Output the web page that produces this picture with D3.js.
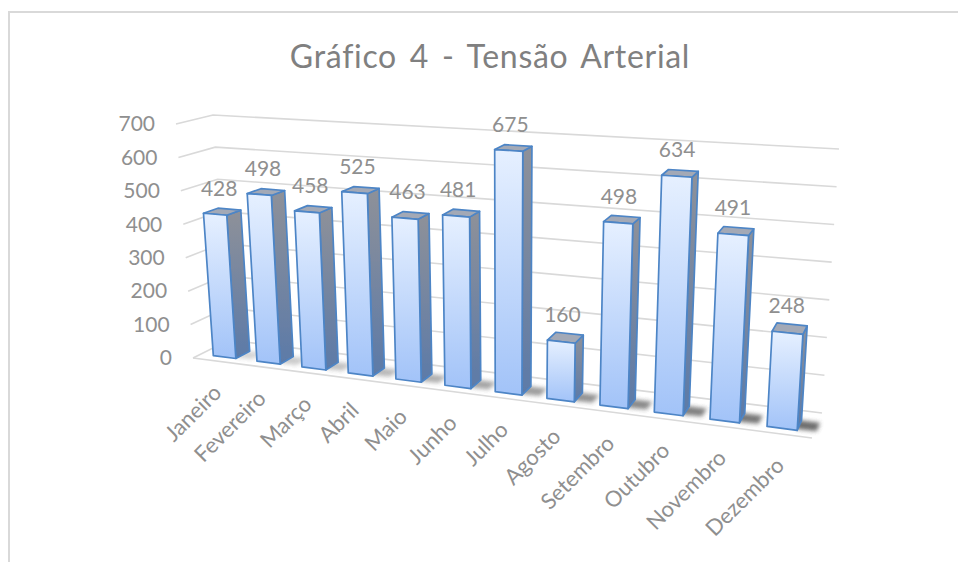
<!DOCTYPE html>
<html><head><meta charset="utf-8">
<script src="https://cdn.jsdelivr.net/npm/d3@7"></script>
<style>html,body{margin:0;background:#fff}svg{display:block}text{font-family:Lato,"Noto Sans",sans-serif}</style>
</head><body><svg id="c" width="959" height="562"></svg>
<script>
const months=["Janeiro","Fevereiro","Março","Abril","Maio","Junho","Julho","Agosto","Setembro","Outubro","Novembro","Dezembro"];
const values=[428,498,458,525,463,481,675,160,498,634,491,248];
const yTicks=[0,100,200,300,400,500,600,700];
const titleText="Gráfico 4 - Tensão Arterial";

const svg=d3.select("#c");
const defs=svg.append("defs");
function grad(id,a,b){const g=defs.append("linearGradient").attr("id",id).attr("x1",0).attr("y1",0).attr("x2",0).attr("y2",1);
 g.append("stop").attr("offset",0).attr("stop-color",a);g.append("stop").attr("offset",1).attr("stop-color",b);}
grad("front","#e6f0ff","#a2c3f8");grad("side","#8e9199","#5c7aa8");
defs.append("filter").attr("id","blur").attr("x","-40%").attr("y","-80%").attr("width","180%").attr("height","260%")
 .append("feGaussianBlur").attr("stdDeviation",2);
defs.append("filter").attr("id","soft").append("feGaussianBlur").attr("stdDeviation",0.4);

const yScale=d3.scaleLinear().domain([0,700]).range([0,1]);
const band=d3.scaleBand().domain(months).range([0,1]).paddingInner(0.48).paddingOuter(0.29);
const warp=u=>0.84*u+0.16*u*u;
const floorC={fl:[193,358],fr:[812,438],bl:[229,340],br:[822,413]};
const topC={fl:[176,124],fr:[829,164],bl:[213,115],br:[839,149]};
const mix=(a,b,t)=>[a[0]+(b[0]-a[0])*t,a[1]+(b[1]-a[1])*t];
function plane(c,s,d){return mix(mix(c.fl,c.fr,s),mix(c.bl,c.br,s),d);}
function P(u,d,v){const s=warp(u);return mix(plane(floorC,s,d),plane(topC,s,d),yScale(v));}
const line=d3.line();
const D0=0.22,D1=0.62;

const gChart=svg.append("g").attr("filter","url(#soft)");
gChart.append("path").attr("d","M958,12H9V562").attr("fill","none").attr("stroke","#d9d9d9").attr("stroke-width",2);
const grid=gChart.append("g").attr("fill","none").attr("stroke","#d9d9d9").attr("stroke-width",1.6);
grid.selectAll(".w").data(yTicks).join("path").attr("d",v=>line([P(0,0,v),P(0,1,v),P(1,1,v)]));
grid.append("path").attr("d",line([P(0,0,0),P(1,0,0)]));

gChart.append("g").selectAll("path").data(months).join("path")
 .attr("filter","url(#blur)").attr("fill","#555").attr("opacity",(m,i)=>0.25+0.055*i)
 .attr("d",m=>{const a=band(m),w=band.bandwidth();const o=w*0.62;
  return line([P(a+w,D0+0.04,0),P(a+w+o,D0+0.06,0),P(a+w+o,D1,0),P(a+w*0.5,D1,0)])+"Z";});

const bars=gChart.append("g").selectAll("g").data(months.map((m,i)=>({m,v:values[i]}))).join("g")
 .attr("stroke","#4d85c6").attr("stroke-width",1.7).attr("stroke-linejoin","round");
bars.append("path").attr("fill","url(#side)")
 .attr("d",b=>{const a=band(b.m)+band.bandwidth();return line([P(a,D0,0),P(a,D1,0),P(a,D1,b.v),P(a,D0,b.v)])+"Z";});
bars.append("path").attr("fill","#a3a9b6")
 .attr("d",b=>{const a=band(b.m),e=a+band.bandwidth();return line([P(a,D0,b.v),P(e,D0,b.v),P(e,D1,b.v),P(a,D1,b.v)])+"Z";});
bars.append("path").attr("fill","url(#front)")
 .attr("d",b=>{const a=band(b.m),e=a+band.bandwidth();return line([P(a,D0,0),P(e,D0,0),P(e,D0,b.v),P(a,D0,b.v)])+"Z";});

const labelColor="#8f8f8f";
svg.append("text").attr("x",490).attr("y",68).attr("text-anchor","middle").attr("font-size",32)
 .attr("fill","#808080").attr("word-spacing",4).attr("letter-spacing",0.7).text(titleText);
svg.append("g").selectAll("text").data(yTicks).join("text").attr("font-size",21).attr("fill",labelColor)
 .attr("text-anchor","end").attr("dominant-baseline","middle")
 .attr("x",v=>P(0,0,v)[0]-21).attr("y",v=>P(0,0,v)[1]+2).text(v=>v);
svg.append("g").selectAll("text").data(months.map((m,i)=>({m,v:values[i]}))).join("text")
 .attr("font-size",21).attr("fill",labelColor).attr("text-anchor","middle")
 .attr("x",b=>P(band(b.m)+band.bandwidth()/2,(D0+D1)/2,b.v)[0]-3)
 .attr("y",b=>P(band(b.m)+band.bandwidth()/2,(D0+D1)/2,b.v)[1]-16).text(b=>b.v);
svg.append("g").selectAll("text").data(months).join("text")
 .attr("font-size",22).attr("fill",labelColor).attr("text-anchor","end")
 .attr("transform",m=>{const p=P(band(m)+band.bandwidth()/2,0,0);return `translate(${p[0]+6},${p[1]+33}) rotate(-45)`;}).text(m=>m);
</script></body></html>
